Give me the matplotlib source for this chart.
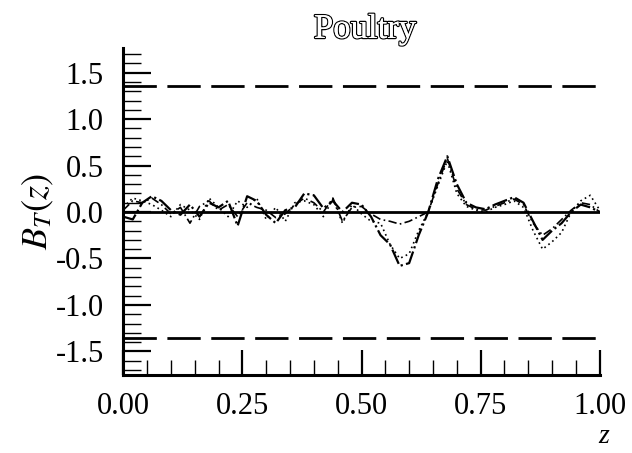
import matplotlib
matplotlib.use("Agg")
import matplotlib.pyplot as plt
import matplotlib.patheffects as pe
from matplotlib.ticker import MultipleLocator

# grid of z values and the three B_T(z) paths
z = [0.00, 0.02, 0.04, 0.06, 0.08, 0.10, 0.12, 0.14, 0.16, 0.18,
     0.20, 0.22, 0.24, 0.26, 0.28, 0.30, 0.32, 0.34, 0.36, 0.38,
     0.40, 0.42, 0.44, 0.46, 0.48, 0.50, 0.52, 0.54, 0.56, 0.58,
     0.60, 0.62, 0.64, 0.66, 0.68, 0.70, 0.72, 0.74, 0.76, 0.78,
     0.80, 0.82, 0.84, 0.86, 0.88, 0.90, 0.92, 0.94, 0.96, 0.98, 1.00]

b_dashed = [-0.05, -0.08, 0.10, 0.17, 0.12, 0.02, -0.03, 0.08, -0.05, 0.10,
            0.05, 0.12, -0.15, 0.17, 0.12, -0.03, -0.12, 0.02, 0.05, 0.20,
            0.18, 0.04, 0.12, 0.00, 0.10, 0.08, -0.05, -0.25, -0.35, -0.58,
            -0.55, -0.25, 0.00, 0.35, 0.60, 0.30, 0.10, 0.05, 0.03, 0.08,
            0.12, 0.16, 0.10, -0.10, -0.30, -0.20, -0.12, 0.00, 0.08, 0.05, 0.00]

b_dashdot = [0.02, 0.12, 0.10, 0.15, 0.08, -0.02, 0.05, -0.12, 0.06, 0.12,
             0.02, 0.08, -0.05, 0.10, 0.05, 0.02, -0.06, -0.02, 0.08, 0.15,
             0.10, 0.00, 0.15, -0.10, 0.05, 0.06, -0.02, -0.08, -0.10, -0.13,
             -0.10, -0.05, 0.00, 0.30, 0.58, 0.25, 0.08, 0.03, 0.02, 0.06,
             0.10, 0.14, 0.08, -0.12, -0.25, -0.18, -0.08, 0.02, 0.10, 0.08, 0.00]

b_dotted = [0.05, 0.15, 0.12, 0.08, 0.02, -0.05, 0.08, 0.02, -0.08, 0.15,
            0.05, -0.05, 0.12, 0.05, 0.15, -0.08, 0.05, -0.10, 0.10, 0.12,
            0.08, -0.05, 0.14, -0.12, 0.08, -0.02, -0.10, -0.12, -0.35, -0.50,
            -0.45, -0.20, 0.00, 0.28, 0.55, 0.20, 0.06, 0.02, 0.00, 0.05,
            0.08, 0.12, 0.05, -0.20, -0.40, -0.32, -0.22, 0.00, 0.12, 0.18, 0.02]

crit = 1.358  # 5% band
x_ticks = [0.0, 0.25, 0.5, 0.75, 1.0]
x_tick_labels = ["0.00", "0.25", "0.50", "0.75", "1.00"]
y_ticks = [-1.5, -1.0, -0.5, 0.0, 0.5, 1.0, 1.5]
y_tick_labels = ["-1.5", "-1.0", "-0.5", "0.0", "0.5", "1.0", "1.5"]

plt.rcParams["font.family"] = "Liberation Serif"
plt.rcParams["mathtext.fontset"] = "stix"

fig = plt.figure(figsize=(6.32, 4.53), dpi=100)
ax = fig.add_axes([0.195, 0.172, 0.754, 0.722])

ax.plot(z, b_dashed, color="black", lw=1.6, dashes=(7, 1.5, 1, 1.5))
ax.plot(z, b_dashdot, color="black", lw=1.2, dashes=(5, 2, 1, 2))
ax.plot(z, b_dotted, color="black", lw=1.2, dashes=(1, 2))

ax.axhline(0.0, color="black", lw=2.0)
ax.axhline(crit, color="black", lw=2.0, dashes=(12, 3.8))
ax.axhline(-crit, color="black", lw=2.0, dashes=(12, 3.8))

ax.set_xlim(0.0, 1.0)
ax.set_ylim(-1.755, 1.765)

for side in ("top", "right"):
    ax.spines[side].set_visible(False)
for side in ("left", "bottom"):
    ax.spines[side].set_linewidth(2.2)

ax.set_xticks(x_ticks)
ax.set_xticklabels(x_tick_labels)
ax.set_yticks(y_ticks)
ax.set_yticklabels(y_tick_labels)
ax.xaxis.set_minor_locator(MultipleLocator(0.05))
ax.yaxis.set_minor_locator(MultipleLocator(0.1))

ax.tick_params(axis="x", which="major", direction="in", length=18, width=1.6,
               labelsize=22, pad=12)
ax.tick_params(axis="x", which="minor", direction="in", length=11, width=1.0)
ax.tick_params(axis="y", which="major", direction="in", length=20, width=1.6,
               labelsize=22, pad=14)
ax.tick_params(axis="y", which="minor", direction="in", length=13, width=1.0)

ax.set_ylabel(r"$B_T(z)$", fontsize=26, labelpad=0)

# x-axis label sits below the right end of the axis
fig.text(0.955, 0.008, "z", fontsize=20, style="italic", ha="center",
         va="bottom")

title = fig.text(0.578, 0.935, "Poultry", fontsize=25, ha="center",
                 va="center", color="white")
title.set_path_effects([pe.withStroke(linewidth=1.8, foreground="black"),
                        pe.Normal()])

fig.savefig("out.png", dpi=100)
